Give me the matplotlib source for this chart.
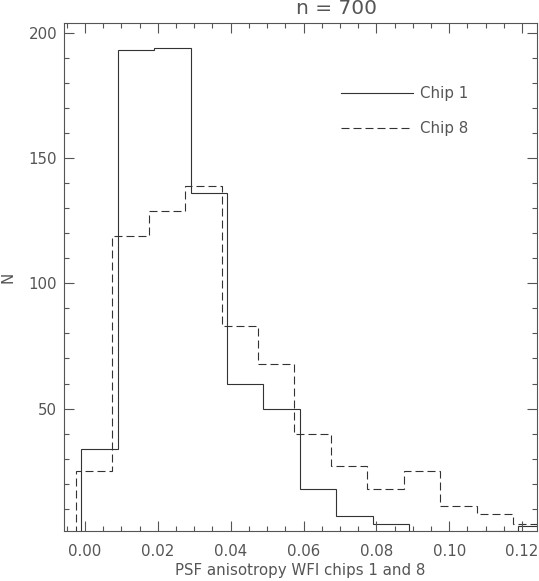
import numpy as np
import matplotlib
matplotlib.use("Agg")
import matplotlib.pyplot as plt
from matplotlib.ticker import MultipleLocator

# ---- data ----
chip1_edge0 = -0.001
chip8_edge0 = -0.0025
bin_width = 0.01
chip1_counts = [34, 193, 194, 136, 60, 50, 18, 7, 4, 0, 0, 1, 3]
chip8_counts = [25, 119, 129, 139, 83, 68, 40, 27, 18, 25, 11, 8, 4]
series_labels = ["Chip 1", "Chip 8"]
title_text = "n = 700"
xlabel_text = "PSF anisotropy WFI chips 1 and 8"
ylabel_text = "N"

chip1_edges = chip1_edge0 + bin_width * np.arange(len(chip1_counts) + 1)
chip8_edges = chip8_edge0 + bin_width * np.arange(len(chip8_counts) + 1)

DPI = 100
W, H = 539, 581
fig = plt.figure(figsize=(W / DPI, H / DPI), dpi=DPI)
ax = fig.add_axes([64 / W, (H - 531) / H, (537 - 64) / W, (531 - 23) / H])

txt_col = "#555555"
line_col = "#333333"
fs = 10.8
lw = 0.8

ax.stairs(chip1_counts, chip1_edges, baseline=0, color=line_col, lw=lw,
          label=series_labels[0])
ax.stairs(chip8_counts, chip8_edges, baseline=0, color=line_col, lw=lw,
          label=series_labels[1], linestyle=(0, (7.2, 3.6)))

ax.set_xlim(-0.00577, 0.1241)
ax.set_ylim(1.15, 203.9)

ax.xaxis.set_major_locator(MultipleLocator(0.02))
ax.xaxis.set_minor_locator(MultipleLocator(0.005))
ax.yaxis.set_major_locator(MultipleLocator(50))
ax.yaxis.set_minor_locator(MultipleLocator(10))
ax.xaxis.set_major_formatter(matplotlib.ticker.FormatStrFormatter("%.2f"))

ax.tick_params(which="both", direction="in", top=True, right=True,
               colors=txt_col, labelsize=fs)
ax.tick_params(which="major", length=7, width=0.8)
ax.tick_params(which="minor", length=3.5, width=0.8)
ax.tick_params(axis="x", which="major", pad=9)
ax.tick_params(axis="y", which="major", pad=5)
for s in ax.spines.values():
    s.set_color(txt_col)
    s.set_linewidth(0.8)

for lab in ax.get_xticklabels() + ax.get_yticklabels():
    lab.set_color(txt_col)

ax.set_xlabel(xlabel_text, fontsize=fs, color=txt_col, labelpad=3)
ax.set_ylabel(ylabel_text, fontsize=fs, color=txt_col, labelpad=9)

fig.text(337 / W, 1 - 14 / H, title_text, fontsize=14.5, color=txt_col,
         ha="center", va="baseline")

leg = ax.legend(loc="upper left", bbox_to_anchor=((340.7 - 64) / 473, (531 - 86) / 508),
                frameon=False, fontsize=fs, handlelength=4.8, handletextpad=0.5,
                labelspacing=1.35, borderpad=0, borderaxespad=0)
for t in leg.get_texts():
    t.set_color(txt_col)

fig.savefig("out.png", dpi=DPI)
